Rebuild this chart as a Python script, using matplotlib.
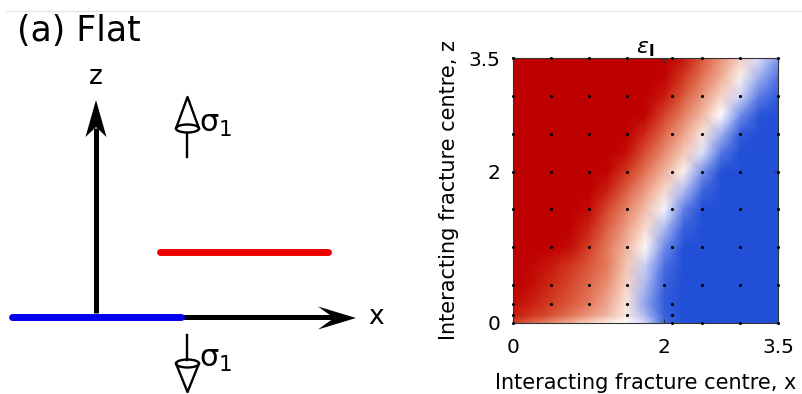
import numpy as np
import matplotlib
matplotlib.use("Agg")
import matplotlib.pyplot as plt
from matplotlib.colors import LinearSegmentedColormap
from matplotlib.patches import Polygon, Ellipse

plt.rcParams['font.family'] = ['DejaVu Sans']
plt.rcParams['mathtext.fontset'] = 'dejavusans'

# ---------------- data (right panel) ----------------
x_grid = [0.0, 0.25, 0.5, 0.75, 1.0, 1.25, 1.5, 1.75, 2.0, 2.25, 2.5, 2.75, 3.0, 3.25, 3.5]
z_grid = [0.0, 0.1, 0.25, 0.5, 0.75, 1.0, 1.25, 1.5, 1.75, 2.0, 2.25, 2.5, 2.75, 3.0, 3.25, 3.5]
# normalised strain eps_I (+1 red ... -1 blue), one row per z_grid value
eps_rows = [
    [0.75, 0.60, 0.45, 0.30, 0.15, 0.05, 0.00, -0.15, -0.80, -1, -1, -1, -1, -1, -1],
    [0.90, 0.80, 0.68, 0.55, 0.40, 0.25, 0.08, -0.30, -0.85, -1, -1, -1, -1, -1, -1],
    [0.95, 0.88, 0.78, 0.66, 0.52, 0.33, 0.08, -0.40, -0.90, -1, -1, -1, -1, -1, -1],
    [1.00, 0.95, 0.85, 0.73, 0.60, 0.42, 0.15, -0.30, -0.85, -1, -1, -1, -1, -1, -1],
    [1.00, 0.97, 0.90, 0.80, 0.67, 0.50, 0.20, -0.20, -0.75, -1, -1, -1, -1, -1, -1],
    [1.00, 1.00, 1.00, 0.95, 0.77, 0.52, 0.27, 0.02, -0.51, -1, -1, -1, -1, -1, -1],
    [1.00, 1.00, 1.00, 1.00, 0.87, 0.62, 0.37, 0.12, -0.29, -0.84, -1, -1, -1, -1, -1],
    [1.00, 1.00, 1.00, 1.00, 0.96, 0.73, 0.48, 0.23, -0.04, -0.60, -1, -1, -1, -1, -1],
    [1.00, 1.00, 1.00, 1.00, 1.00, 0.88, 0.63, 0.38, 0.13, -0.27, -0.82, -1, -1, -1, -1],
    [1.00, 1.00, 1.00, 1.00, 1.00, 0.98, 0.79, 0.54, 0.29, 0.04, -0.47, -1, -1, -1, -1],
    [1.00, 1.00, 1.00, 1.00, 1.00, 1.00, 0.95, 0.70, 0.45, 0.20, -0.11, -0.67, -1, -1, -1],
    [1.00, 1.00, 1.00, 1.00, 1.00, 1.00, 1.00, 0.85, 0.60, 0.35, 0.10, -0.33, -0.89, -1, -1],
    [1.00, 1.00, 1.00, 1.00, 1.00, 1.00, 1.00, 0.98, 0.75, 0.50, 0.25, 0.00, -0.50, -0.95, -1],
    [1.00, 1.00, 1.00, 1.00, 1.00, 1.00, 1.00, 1.00, 0.91, 0.66, 0.41, 0.16, -0.16, -0.62, -0.90],
    [1.00, 1.00, 1.00, 1.00, 1.00, 1.00, 1.00, 1.00, 0.98, 0.80, 0.55, 0.30, 0.05, -0.33, -0.70],
    [1.00, 1.00, 1.00, 1.00, 1.00, 1.00, 1.00, 1.00, 1.00, 0.92, 0.67, 0.42, 0.17, -0.13, -0.45],
]
# sampled fracture-centre positions (black dots)
sample_x = ([0, 0.5, 1, 1.5, 2.1, 2.5, 3, 3.5] * 6
            + [0, 0.5, 1, 1.5, 2.0, 2.5, 3, 3.5]
            + [0, 0.5, 1, 1.5, 2.1]
            + [0, 1.5, 2.1]
            + [0, 2.1, 2.5, 3, 3.5])
sample_z = ([3.5] * 8 + [3.0] * 8 + [2.5] * 8 + [2.0] * 8 + [1.5] * 8 + [1.0] * 8
            + [0.5] * 8 + [0.25] * 5 + [0.1] * 3 + [0.0] * 5)
tick_vals = [0, 2, 3.5]
tick_labels = ['0', '2', '3.5']

# ---------------- schematic geometry (left panel, pixel units) ----------------
z_axis_x = 96
z_axis = (313, 128)
x_axis_y = 317
x_axis = (181, 334)
blue_frac = (12, 181, 317)
red_frac = (160, 328, 252)

fig = plt.figure(figsize=(8.03, 3.94), dpi=100)

# left schematic in pixel coordinates
a0 = fig.add_axes([0, 0, 1, 1])
a0.set_xlim(0, 803)
a0.set_ylim(394, 0)
a0.axis('off')

a0.plot([6, 803], [11, 11], color='#e6e6e6', lw=1)
a0.text(17, 31, '(a) Flat', fontsize=25, va='center', ha='left')

# z axis
a0.plot([z_axis_x, z_axis_x], z_axis, color='black', lw=3.6, solid_capstyle='butt')
a0.add_patch(Polygon([(96, 100), (85.5, 137), (96, 127), (106.5, 137)], closed=True,
                     color='black', lw=0))
a0.text(96, 77, 'z', fontsize=19, ha='center', va='center')
# x axis
a0.plot(x_axis, [x_axis_y, x_axis_y], color='black', lw=3.6, solid_capstyle='butt')
a0.add_patch(Polygon([(356, 318), (318, 306.5), (334, 318), (318, 329.5)], closed=True,
                     color='black', lw=0))
a0.text(376, 317, 'x', fontsize=19, ha='center', va='center')
# fractures
a0.plot(blue_frac[:2], [blue_frac[2]] * 2, color='#0000ee', lw=5, solid_capstyle='round')
a0.plot(red_frac[:2], [red_frac[2]] * 2, color='#ee0000', lw=5, solid_capstyle='round')

# sigma symbols
def sigma_symbol(cx, cy, tip_y, stem_end):
    a0.plot([cx - 11.5, cx, cx + 11.5], [cy, tip_y, cy], color='black', lw=1.7)
    a0.add_patch(Ellipse((cx, cy), 23, 8, fill=False, ec='black', lw=1.7))
    a0.plot([cx, cx], [cy + (4 if stem_end > cy else -4), stem_end], color='black', lw=1.7)

sigma_symbol(187.5, 128.5, 97, 157)
sigma_symbol(187.5, 363.5, 392, 335)
a0.text(199, 124, r'$\mathrm{\sigma}_1$', fontsize=22, va='center', ha='left')
a0.text(199, 360, r'$\mathrm{\sigma}_1$', fontsize=22, va='center', ha='left')

# right panel heatmap
cmap = LinearSegmentedColormap.from_list('rb', [
    (0.000, (0.13, 0.31, 0.84)),
    (0.250, (0.45, 0.55, 0.92)),
    (0.425, (0.83, 0.85, 0.97)),
    (0.500, (1.00, 1.00, 1.00)),
    (0.600, (0.96, 0.78, 0.71)),
    (0.750, (0.90, 0.50, 0.38)),
    (0.900, (0.82, 0.22, 0.12)),
    (1.000, (0.75, 0.00, 0.00)),
])
ax = fig.add_axes([513 / 803, 1 - 323 / 394, 265 / 803, 265 / 394])
X, Z = np.meshgrid(x_grid, z_grid)
ax.pcolormesh(X, Z, np.array(eps_rows), shading='gouraud', cmap=cmap, vmin=-1, vmax=1)
ax.scatter(sample_x, sample_z, s=5, color='black', zorder=3, clip_on=False, lw=0)
ax.set_xlim(0, 3.5)
ax.set_ylim(0, 3.5)
ax.set_xticks(tick_vals)
ax.set_xticklabels(tick_labels)
ax.set_yticks(tick_vals)
ax.set_yticklabels(tick_labels)
ax.tick_params(direction='in', length=3, labelsize=14.5, top=True, right=True, color='#333333')
ax.tick_params(axis='x', pad=11)
ax.tick_params(axis='y', pad=9)
for s in ax.spines.values():
    s.set_color('#333333')
    s.set_linewidth(0.8)
ax.set_xlabel('Interacting fracture centre, x', fontsize=15, labelpad=11)
ax.set_ylabel('Interacting fracture centre, z', fontsize=15, labelpad=7)
ax.set_title(r'$\epsilon_{\mathbf{I}}$', fontsize=16, pad=3)

fig.savefig('out.png', dpi=100)
